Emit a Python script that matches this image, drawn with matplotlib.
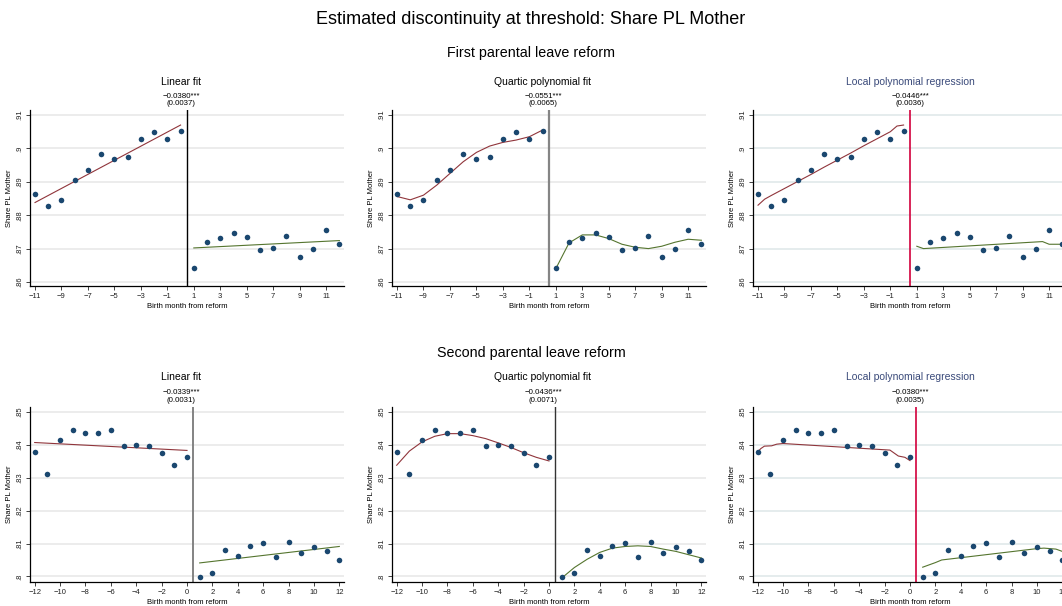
import numpy as np
import matplotlib
matplotlib.use("Agg")
import matplotlib.pyplot as plt

plt.rcParams['font.family'] = ['Liberation Sans', 'DejaVu Sans']

W, H = 1062, 606

# ---- first reform: binned means ----
x1_pre = [-11, -10, -9, -8, -7, -6, -5, -4, -3, -2, -1, 0]
y1_pre = [.8864, .8828, .8846, .8904, .8934, .8983, .8968, .8974, .9027, .9048, .9027, .9053]
x1_post = [1, 2, 3, 4, 5, 6, 7, 8, 9, 10, 11, 12]
y1_post = [.8641, .8719, .8733, .8746, .8734, .8696, .8703, .8738, .8674, .8699, .8757, .8714]

# fitted lines, first reform
lin1_pre = [.8838, .9070]
lin1_post = [.8702, .8724]
quart1_pre = [.8856, .8846, .8860, .8890, .8925, .8960, .8988, .9007, .9018, .9025, .9035, .9055]
quart1_post = [.8640, .8717, .8741, .8741, .8730, .8713, .8704, .8700, .8707, .8719, .8728, .8725]
lp1_pre_x = [-11, -10.5, -10, -9, -8, -7, -6, -5, -4, -3, -2, -1, -0.5, 0]
lp1_pre_y = [.8830, .8848, .8859, .8880, .8901, .8922, .8944, .8965, .8986, .9008, .9029, .9050, .9067, .9070]
lp1_post_x = [1, 1.5, 10.5, 11, 12]
lp1_post_y = [.8707, .8700, .8721, .8713, .8713]

# ---- second reform: binned means ----
x2_pre = [-12, -11, -10, -9, -8, -7, -6, -5, -4, -3, -2, -1, 0]
y2_pre = [.8377, .8312, .8416, .8444, .8436, .8436, .8444, .8396, .8399, .8396, .8375, .8340, .8364]
x2_post = [1, 2, 3, 4, 5, 6, 7, 8, 9, 10, 11, 12]
y2_post = [.7999, .8009, .8080, .8061, .8093, .8102, .8058, .8105, .8072, .8088, .8076, .8049]

lin2_pre = [.8407, .8383]
lin2_post = [.8041, .8091]
quart2_pre = [.8338, .8381, .8409, .8426, .8434, .8434, .8428, .8419, .8406, .8392, .8376, .8362, .8351]
quart2_post = [.7995, .8027, .8052, .8073, .8086, .8091, .8093, .8091, .8083, .8076, .8066, .8056]
lp2_pre_x = [-12, -11.74, -11.47, -10.9, -10.5, -10, -1.58, -0.92, -0.4, 0]
lp2_pre_y = [.8379, .8389, .8396, .8397, .8402, .8404, .8384, .8366, .8362, .8352]
lp2_post_x = [1, 2, 2.5, 9.9, 10.55, 11.5, 12]
lp2_post_y = [.8028, .8042, .8050, .8084, .8086, .8083, .8076]

coefs1 = ["\u22120.0380***", "\u22120.0551***", "\u22120.0446***"]
ses1 = ["(0.0037)", "(0.0065)", "(0.0036)"]
coefs2 = ["\u22120.0339***", "\u22120.0436***", "\u22120.0380***"]
ses2 = ["(0.0031)", "(0.0071)", "(0.0035)"]
titles = ["Linear fit", "Quartic polynomial fit", "Local polynomial regression"]

yt1 = [.86, .87, .88, .89, .90, .91]
ytl1 = [".86", ".87", ".88", ".89", ".9", ".91"]
yt2 = [.80, .81, .82, .83, .84, .85]
ytl2 = [".8", ".81", ".82", ".83", ".84", ".85"]

navy = '#1a476f'
maroon = '#90353b'
green = '#55752f'
crimson = '#d2003c'
title_blue = '#3a4a7a'


def fx(px):
    return px / W


def fy(py):
    return 1 - py / H


fig = plt.figure(figsize=(W / 100, H / 100), dpi=100)

fig.text(0.5, fy(20), "Estimated discontinuity at threshold: Share PL Mother",
         ha='center', va='center', fontsize=13)
fig.text(0.5, fy(53), "First parental leave reform", ha='center', va='center', fontsize=10.3)
fig.text(0.5, fy(353), "Second parental leave reform", ha='center', va='center', fontsize=10.3)

lefts = [30, 392, 753]
vcolors_top = ['black', '#858585', crimson]
vcolors_bot = ['#7a7a7a', '#333333', crimson]
vlw_top = [1.0, 1.6, 1.2]
vlw_bot = [1.3, 1.0, 1.2]


def panel(row, col):
    if row == 0:
        top, bot = 110, 286
        xlim = (-11.38, 12.35)
        ylim = (.8588, .9115)
        xpre, ypre, xpost, ypost = x1_pre, y1_pre, x1_post, y1_post
        yt, ytl = yt1, ytl1
        xt = list(range(-11, 12, 2))
        coefs, ses = coefs1, ses1
        ty, cy, sy = 82, 96.3, 103.5
        vcol, vlw = vcolors_top[col], vlw_top[col]
    else:
        top, bot = 407, 582
        xlim = (-12.37, 12.37)
        ylim = (.7983, .8515)
        xpre, ypre, xpost, ypost = x2_pre, y2_pre, x2_post, y2_post
        yt, ytl = yt2, ytl2
        xt = list(range(-12, 13, 2))
        coefs, ses = coefs2, ses2
        ty, cy, sy = 377, 392.3, 400
        vcol, vlw = vcolors_bot[col], vlw_bot[col]
    left = lefts[col]
    ax = fig.add_axes([fx(left), fy(bot), 314 / W, (bot - top) / H])
    ax.set_xlim(*xlim)
    ax.set_ylim(*ylim)
    grid_col = '#e3ebec' if col == 2 else '#ebebeb'
    for v in yt:
        ax.axhline(v, color=grid_col, lw=1.3, zorder=0)
    ax.axvline(0.5, color=vcol, lw=vlw, zorder=1)

    if col == 0:
        if row == 0:
            ax.plot([xpre[0], xpre[-1]], lin1_pre, color=maroon, lw=0.8, zorder=2)
            ax.plot([xpost[0], xpost[-1]], lin1_post, color=green, lw=0.8, zorder=2)
        else:
            ax.plot([xpre[0], xpre[-1]], lin2_pre, color=maroon, lw=0.8, zorder=2)
            ax.plot([xpost[0], xpost[-1]], lin2_post, color=green, lw=0.8, zorder=2)
    elif col == 1:
        if row == 0:
            ax.plot(xpre, quart1_pre, color=maroon, lw=0.8, zorder=2)
            ax.plot(xpost, quart1_post, color=green, lw=0.8, zorder=2)
        else:
            ax.plot(xpre, quart2_pre, color=maroon, lw=0.8, zorder=2)
            ax.plot(xpost, quart2_post, color=green, lw=0.8, zorder=2)
    else:
        if row == 0:
            ax.plot(lp1_pre_x, lp1_pre_y, color=maroon, lw=0.8, zorder=2)
            ax.plot(lp1_post_x, lp1_post_y, color=green, lw=0.8, zorder=2)
        else:
            ax.plot(lp2_pre_x, lp2_pre_y, color=maroon, lw=0.8, zorder=2)
            ax.plot(lp2_post_x, lp2_post_y, color=green, lw=0.8, zorder=2)

    ax.scatter(xpre, ypre, s=16, color=navy, zorder=3, linewidths=0)
    ax.scatter(xpost, ypost, s=16, color=navy, zorder=3, linewidths=0)

    for s in ['top', 'right']:
        ax.spines[s].set_visible(False)
    for s in ['left', 'bottom']:
        ax.spines[s].set_linewidth(0.9)
    ax.set_yticks(yt)
    ax.set_yticklabels(ytl, rotation=90, va='center')
    ax.set_xticks(xt)
    ax.tick_params(axis='both', length=3, width=0.6, labelsize=5.5, pad=2, colors='#222222')
    ax.set_xlabel("Birth month from reform", fontsize=5.5, labelpad=2)
    ax.set_ylabel("Share PL Mother", fontsize=5.5, labelpad=2)

    cx = left + 157 - (6 if col < 2 else 0)
    tcol = title_blue if col == 2 else 'black'
    fig.text(fx(cx), fy(ty), titles[col], ha='center', va='center', fontsize=7.5, color=tcol)
    fig.text(fx(cx), fy(cy), coefs[col], ha='center', va='center', fontsize=5.7)
    fig.text(fx(cx), fy(sy), ses[col], ha='center', va='center', fontsize=5.7)


for r in range(2):
    for c in range(3):
        panel(r, c)

fig.savefig("out.png", dpi=100)
